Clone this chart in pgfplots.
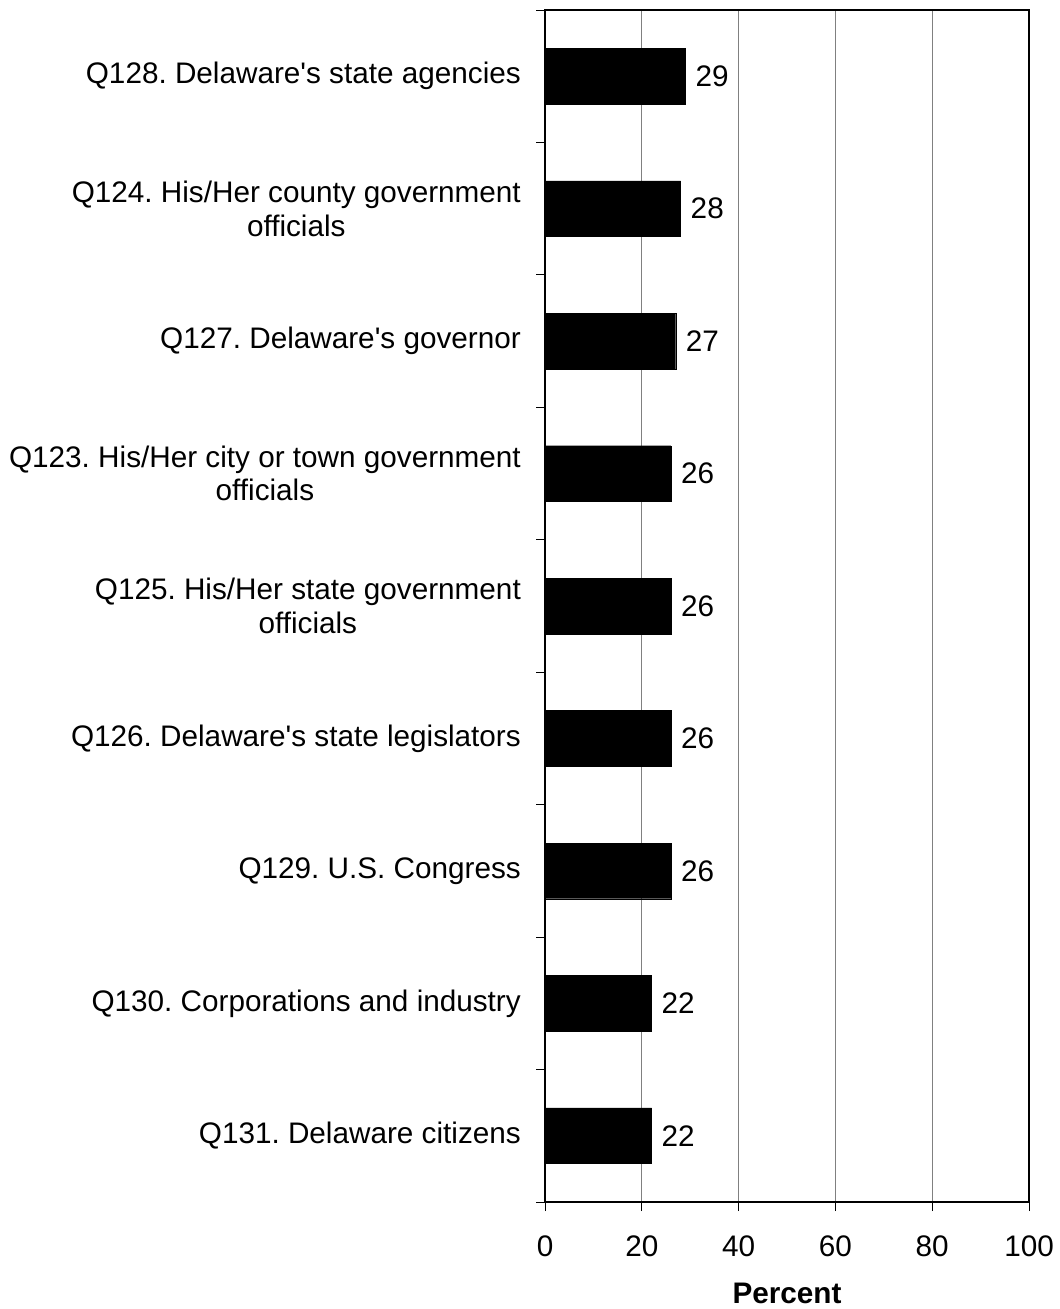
\documentclass[border=0pt]{standalone}
\usepackage{pgfplots}
\pgfplotsset{compat=1.18}
\usepackage{fontspec}
\setmainfont{Liberation Sans}
\usetikzlibrary{calc}
\frenchspacing
\begin{document}
\begin{tikzpicture}
\begin{axis}[
  name=ax,
  scale only axis,
  width=484bp, height=1192bp,
  font=\fontsize{29.7bp}{33.5bp}\selectfont,
  xbar, bar width=0.42,
  xmin=0, xmax=100,
  ymin=-0.5, ymax=8.5, y dir=reverse,
  xtick={0,20,...,100},
  ytick={0,...,8},
  yticklabels={{Q128. Delaware\textquotesingle s state agencies},
    {Q124. His/Her county government\\officials},
    {Q127. Delaware\textquotesingle s governor},
    {Q123. His/Her city or town government\\officials},
    {Q125. His/Her state government\\officials},
    {Q126. Delaware\textquotesingle s state legislators},
    {Q129. U.S. Congress},
    {Q130. Corporations and industry},
    {Q131. Delaware citizens}},
  minor ytick={-0.5,0.5,...,8.5},
  ytick pos=left, xtick pos=bottom,
  major y tick style={draw=none},
  minor y tick style={black, line width=1bp},
  major x tick style={black, line width=1bp},
  tick align=outside,
  major tick length=9bp,
  minor tick length=9bp,
  axis line style={line width=1.6bp},
  xmajorgrids,
  major x grid style={gray, line width=1bp},
  yticklabel style={align=center, inner sep=0pt, xshift=-15bp},
  xticklabel style={inner sep=0pt, yshift=-25bp},
  /pgf/number format/assume math mode=true,
  xlabel={\textbf{Percent}},
  xlabel style={inner sep=0pt, yshift=-26bp},
  nodes near coords,
  point meta=x,
  every node near coord/.append style={font=\fontsize{29.7bp}{33.5bp}\selectfont, inner sep=0pt, xshift=10bp},
]
\addplot[fill=black, draw=black] coordinates {
  (29,0) (28,1) (27,2) (26,3) (26,4) (26,5) (26,6) (22,7) (22,8)};
\end{axis}
\pgfresetboundingbox
\path ($(ax.south west)+(-545bp,-107bp)$) rectangle ($(ax.north east)+(30bp,10bp)$);
\end{tikzpicture}
\end{document}
